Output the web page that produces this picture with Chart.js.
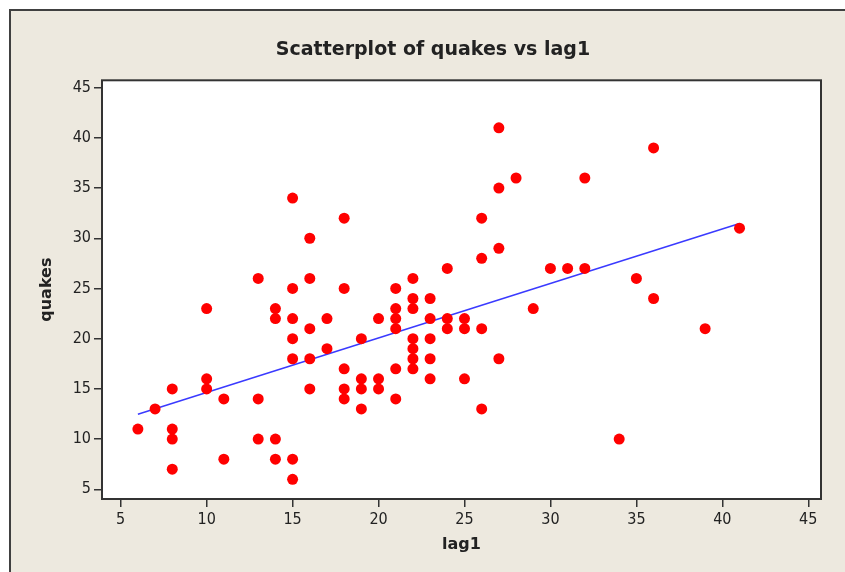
<!DOCTYPE html>
<html>
<head>
<meta charset="utf-8">
<script src="https://cdn.jsdelivr.net/npm/chart.js@4.4.1/dist/chart.umd.min.js"></script>
<style>
  html, body { margin: 0; padding: 0; background: #ffffff; overflow: hidden; }
  #frame {
    position: absolute; left: 9px; top: 9px;
    width: 860px; height: 580px;
    background: #ede9df;
    border-left: 2px solid #404040;
    border-top: 2px solid #404040;
  }
  #wrap { position: absolute; left: 0; top: 0; width: 844px; height: 561px; }
</style>
</head>
<body>
<div id="frame"><div id="wrap"><canvas id="chart"></canvas></div></div>
<script>
const lag1 = [6, 7, 8, 8, 8, 8, 10, 10, 10, 11, 11, 13, 13, 13, 14, 14, 14, 14,
  15, 15, 15, 15, 15, 15, 15, 16, 16, 16, 16, 16, 17, 17, 18, 18, 18, 18, 18,
  19, 19, 19, 19, 20, 20, 20, 21, 21, 21, 21, 21, 21, 22, 22, 22, 22, 22, 22, 22,
  23, 23, 23, 23, 23, 24, 24, 24, 25, 25, 25, 26, 26, 26, 26, 27, 27, 27, 27,
  28, 29, 30, 31, 32, 32, 34, 35, 36, 36, 39, 41];
const quakes = [11, 13, 15, 11, 10, 7, 23, 16, 15, 14, 8, 26, 14, 10, 23, 22, 10, 8,
  34, 25, 22, 20, 18, 8, 6, 30, 26, 21, 18, 15, 22, 19, 32, 25, 17, 15, 14,
  20, 16, 15, 13, 22, 16, 15, 25, 23, 22, 21, 17, 14, 26, 24, 23, 20, 19, 18, 17,
  24, 22, 20, 18, 16, 27, 22, 21, 22, 21, 16, 32, 28, 21, 13, 41, 35, 29, 18,
  36, 23, 27, 27, 36, 27, 10, 26, 39, 24, 21, 31];

// fitted line, ends
const fitX = [6, 41];
const fitY = [12.47, 31.47];

const xTicks = [5, 10, 15, 20, 25, 30, 35, 40, 45];
const yTicks = [5, 10, 15, 20, 25, 30, 35, 40, 45];

const FONT = '"DejaVu Sans Condensed", "DejaVu Sans", sans-serif';
const BOLD = '"DejaVu Sans", sans-serif';
const INK = "#222222";

const plotBox = {
  id: "plotBox",
  beforeDatasetsDraw(chart) {
    const { ctx, chartArea: a } = chart;
    ctx.save();
    ctx.fillStyle = "#ffffff";
    ctx.fillRect(a.left, a.top, a.right - a.left, a.bottom - a.top);
    ctx.restore();
  },
  afterDraw(chart) {
    const { ctx, chartArea: a } = chart;
    ctx.save();
    ctx.strokeStyle = "#333333";
    ctx.lineWidth = 2;
    ctx.strokeRect(a.left, a.top, a.right - a.left, a.bottom - a.top);
    ctx.restore();
  },
};

new Chart(document.getElementById("chart"), {
  data: {
    datasets: [
      {
        type: "line",
        data: fitX.map((x, i) => ({ x: x, y: fitY[i] })),
        borderColor: "#3a3aff",
        borderWidth: 1.5,
        pointRadius: 0,
        order: 2,
      },
      {
        type: "scatter",
        data: lag1.map((x, i) => ({ x: x, y: quakes[i] })),
        backgroundColor: "#ff0000",
        borderWidth: 0,
        pointRadius: 5.5,
        order: 1,
      },
    ],
  },
  options: {
    responsive: true,
    maintainAspectRatio: false,
    animation: false,
    events: [],
    layout: { padding: 0 },
    plugins: {
      legend: { display: false },
      tooltip: { enabled: false },
      title: {
        display: true,
        text: "Scatterplot of quakes vs lag1",
        color: INK,
        font: { family: BOLD, size: 19, weight: "bold" },
        padding: { top: 28, bottom: 18.5 },
      },
    },
    scales: {
      x: {
        type: "linear",
        min: 3.912,
        max: 45.74,
        afterBuildTicks: (s) => { s.ticks = xTicks.map((v) => ({ value: v })); },
        afterFit: (s) => { s.height = 73; },
        grid: { drawOnChartArea: false, tickLength: 8, color: "#333333", lineWidth: 1.5 },
        border: { display: false },
        ticks: { color: INK, padding: 3, font: { family: FONT, size: 16 } },
        title: {
          display: true,
          text: "lag1",
          color: INK,
          font: { family: BOLD, size: 16, weight: "bold" },
          padding: { top: 0, bottom: 18 },
        },
      },
      y: {
        type: "linear",
        min: 4.035,
        max: 45.73,
        afterBuildTicks: (s) => { s.ticks = yTicks.map((v) => ({ value: v })); },
        afterFit: (s) => { s.width = 91; },
        grid: { drawOnChartArea: false, tickLength: 8, color: "#333333", lineWidth: 1.5 },
        border: { display: false },
        ticks: { color: INK, padding: 3, font: { family: FONT, size: 16 } },
        title: {
          display: true,
          text: "quakes",
          color: INK,
          font: { family: BOLD, size: 16, weight: "bold" },
          padding: { top: 26, bottom: 0 },
        },
      },
      // empty axis on the right, keeps the plot narrower than the title band
      y2: {
        type: "linear",
        position: "right",
        display: true,
        afterFit: (s) => { s.width = 34; },
        grid: { display: false },
        border: { display: false },
        ticks: { display: false },
      },
    },
  },
  plugins: [plotBox],
});
</script>
</body>
</html>
